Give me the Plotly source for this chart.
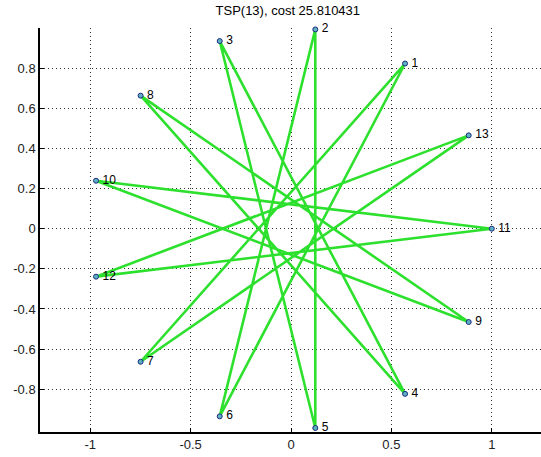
import plotly.graph_objects as go

# City coordinates
city_ids = [1, 2, 3, 4, 5, 6, 7, 8, 9, 10, 11, 12, 13]
city_x = [0.568, 0.121, -0.355, 0.568, 0.121, -0.355, -0.749, -0.749, 0.885, -0.971, 1.000, -0.971, 0.885]
city_y = [0.823, 0.993, 0.935, -0.823, -0.993, -0.935, -0.663, 0.663, -0.465, 0.239, 0.000, -0.239, 0.465]

# Tour order
tour = [11, 10, 9, 8, 4, 3, 5, 2, 6, 1, 7, 13, 12, 11]

x_ticks = [-1, -0.5, 0, 0.5, 1]
x_labels = ["-1", "-0.5", "0", "0.5", "1"]
y_ticks = [-0.8, -0.6, -0.4, -0.2, 0, 0.2, 0.4, 0.6, 0.8]
y_labels = ["-0.8", "-0.6", "-0.4", "-0.2", "0", "0.2", "0.4", "0.6", "0.8"]

idx = {c: i for i, c in enumerate(city_ids)}
tour_x = [city_x[idx[c]] for c in tour]
tour_y = [city_y[idx[c]] for c in tour]

fig = go.Figure()
fig.add_trace(go.Scatter(
    x=tour_x, y=tour_y, mode="lines",
    line=dict(color="#2ee02e", width=2.6),
    hoverinfo="skip", showlegend=False, cliponaxis=False,
))
fig.add_trace(go.Scatter(
    x=city_x, y=city_y, mode="markers+text",
    text=["\u2009" + str(c) for c in city_ids], textposition="middle right",
    textfont=dict(family="Arial, Liberation Sans, sans-serif", size=12, color="#000000"),
    marker=dict(symbol="circle", size=5, color="#5fb0c0", line=dict(color="#1a2a80", width=1)),
    showlegend=False, cliponaxis=False,
))

fig.update_layout(
    width=541, height=457,
    margin=dict(l=40, r=0, t=28, b=25),
    paper_bgcolor="white", plot_bgcolor="white",
    font=dict(family="Arial, Liberation Sans, sans-serif", size=13, color="#000000"),
    title=dict(text="TSP(13), cost 25.810431", x=0.532, xanchor="center",
               y=0.977, yanchor="middle", font=dict(size=13)),
    xaxis=dict(range=[-1.25, 1.245], tickvals=x_ticks, ticktext=x_labels,
               showgrid=True, gridcolor="#333333", griddash="1px,3px", gridwidth=1,
               zeroline=False, showline=True, linecolor="#000000", linewidth=1.5,
               ticks="inside", ticklen=4, tickcolor="#000000", mirror=False,
               tickfont=dict(size=13, color="#222222")),
    yaxis=dict(range=[-1.013, 1.0], tickvals=y_ticks, ticktext=y_labels,
               showgrid=True, gridcolor="#333333", griddash="1px,3px", gridwidth=1,
               zeroline=False, showline=True, linecolor="#000000", linewidth=1.5,
               ticks="inside", ticklen=4, tickcolor="#000000", mirror=False,
               tickfont=dict(size=13, color="#222222")),
)

fig.write_html("out.html")
